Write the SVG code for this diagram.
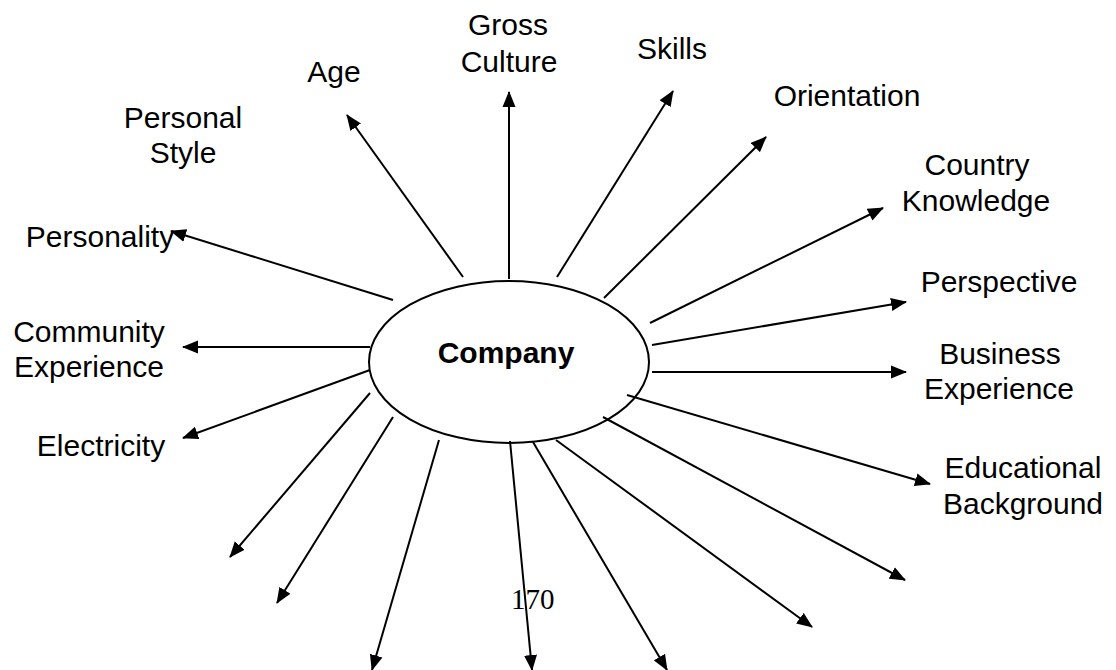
<svg xmlns="http://www.w3.org/2000/svg" width="1116" height="670" viewBox="0 0 1116 670">
<style>
.lbl{font-family:"Liberation Sans",Arial,sans-serif;font-size:30px;fill:#000;text-anchor:middle}
.c{stroke:#000;stroke-width:2;fill:none}
</style>
<defs>
<marker id="ah" markerUnits="userSpaceOnUse" markerWidth="16" markerHeight="14" refX="15" refY="6.5" orient="auto" viewBox="0 0 16 13">
<path d="M0,0 L16,6.5 L0,13 z" fill="#000"/>
</marker>
</defs>
<rect width="1116" height="670" fill="#fff"/>
<g id="connectors" class="c" marker-end="url(#ah)">
<line x1="463" y1="277" x2="347" y2="115"/>
<line x1="509" y1="279" x2="509" y2="92"/>
<line x1="557" y1="277" x2="673" y2="91"/>
<line x1="604" y1="298" x2="766" y2="137"/>
<line x1="650" y1="323" x2="883" y2="208"/>
<line x1="652" y1="345" x2="906" y2="302"/>
<line x1="652" y1="372" x2="906" y2="372"/>
<line x1="627" y1="395" x2="930" y2="484"/>
<line x1="603" y1="417" x2="905" y2="580"/>
<line x1="556" y1="440" x2="812" y2="627"/>
<line x1="533" y1="442" x2="667" y2="670"/>
<line x1="510" y1="441" x2="532" y2="670"/>
<line x1="439" y1="440" x2="372" y2="670"/>
<line x1="393" y1="417" x2="277" y2="603"/>
<line x1="370" y1="393" x2="230" y2="557"/>
<line x1="370" y1="370" x2="183" y2="438"/>
<line x1="370" y1="347" x2="183" y2="347"/>
<line x1="393" y1="300" x2="171" y2="231"/>
</g>
<g id="company">
<ellipse cx="509" cy="362" rx="140" ry="81" class="c" fill="#fff"/>
<text x="506" y="363" class="lbl" font-weight="bold">Company</text>
</g>
<g id="age"><text x="334" y="82" class="lbl">Age</text></g>
<g id="gross-culture"><text x="508" y="35" class="lbl">Gross</text><text x="509" y="72" class="lbl">Culture</text></g>
<g id="skills"><text x="672" y="59" class="lbl">Skills</text></g>
<g id="orientation"><text x="847" y="106" class="lbl">Orientation</text></g>
<g id="country-knowledge"><text x="977" y="175" class="lbl">Country</text><text x="976" y="211" class="lbl">Knowledge</text></g>
<g id="perspective"><text x="999" y="292" class="lbl">Perspective</text></g>
<g id="business-experience"><text x="1000" y="364" class="lbl">Business</text><text x="999" y="399" class="lbl">Experience</text></g>
<g id="educational-background"><text x="1023" y="478" class="lbl">Educational</text><text x="1023" y="514" class="lbl">Background</text></g>
<g id="personal-style"><text x="183" y="128" class="lbl">Personal</text><text x="183" y="163" class="lbl">Style</text></g>
<g id="personality"><text x="100" y="247" class="lbl">Personality</text></g>
<g id="community-experience"><text x="89" y="342" class="lbl">Community</text><text x="89" y="377" class="lbl">Experience</text></g>
<g id="electricity"><text x="101" y="456" class="lbl">Electricity</text></g>
<g id="page-number"><text x="511" y="609" font-family="'Liberation Serif','Times New Roman',serif" font-size="29" fill="#000">170</text></g>
</svg>
